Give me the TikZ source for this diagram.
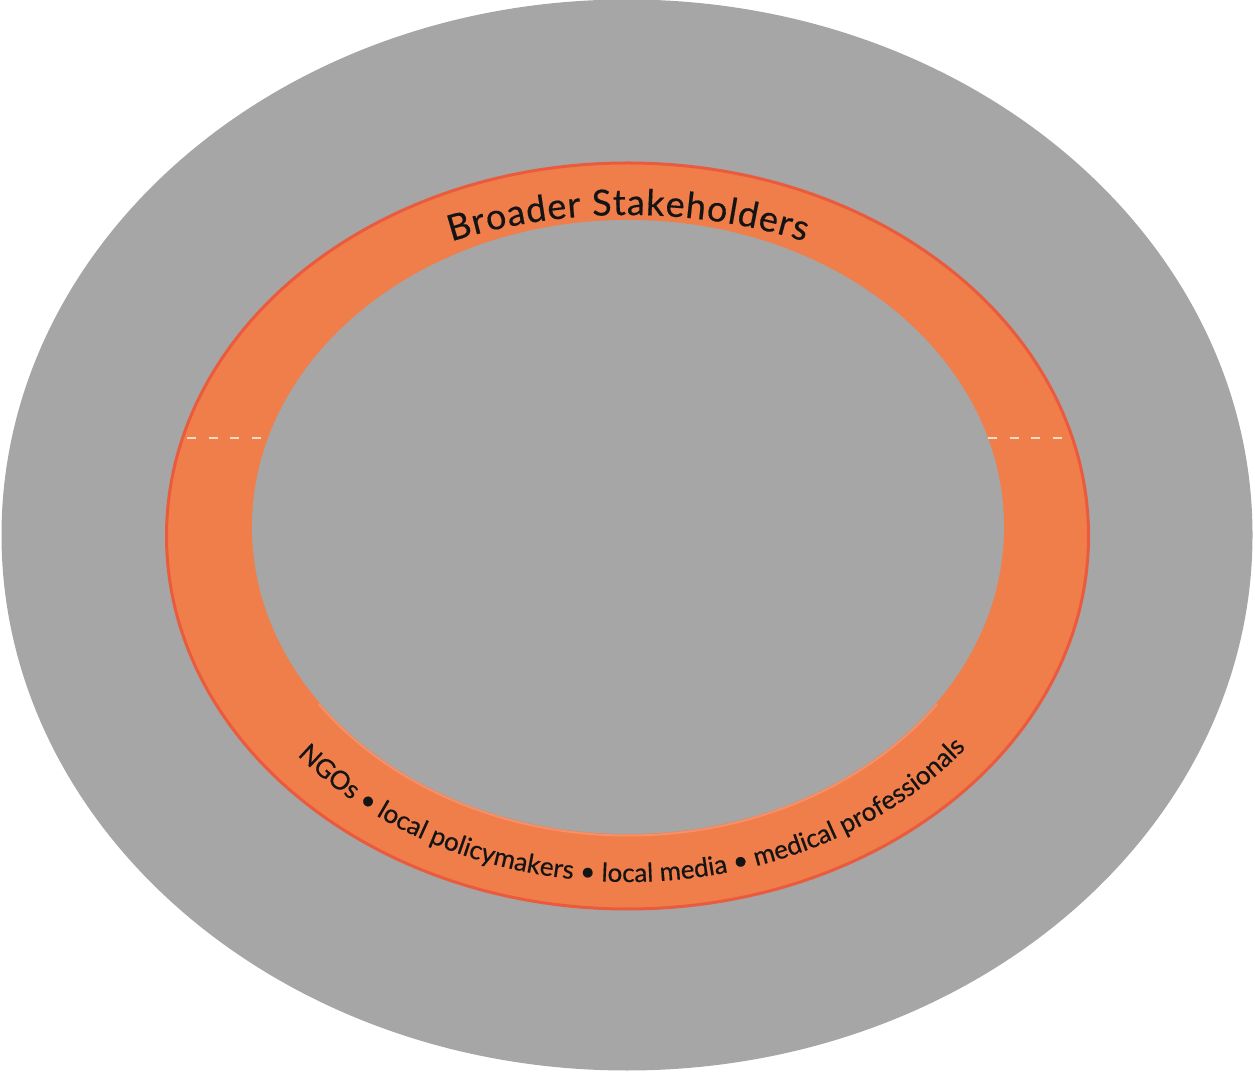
\documentclass[tikz,border=0pt]{standalone}
\usepackage{fontspec}
\setmainfont{Lato}[FakeBold=0.4]
\usetikzlibrary{decorations.text}
\definecolor{bggray}{HTML}{A6A6A6}
\definecolor{ringorange}{HTML}{F07E4B}
\definecolor{ringedge}{HTML}{EA5A3C}
\definecolor{ringlight}{HTML}{F4906A}
\definecolor{dashcream}{HTML}{FADCC2}
\definecolor{txt}{HTML}{141414}
\tikzset{
  ringdash/.style={draw=dashcream, line width=2.8pt, dash pattern=on 9pt off 12.6pt},
  arctext/.style={decorate, decoration={text along path, text align={fit to path}, text color=txt}}
}
\begin{document}
\begin{tikzpicture}[x=1pt,y=1pt]
\useasboundingbox (0,0) rectangle (1255,1071);
% outer gray ellipse
\fill[bggray] (627,536) ellipse [x radius=625.5, y radius=535.5];
% orange ring
\filldraw[fill=ringorange, draw=ringedge, line width=3pt] (627.5,535) ellipse [x radius=461, y radius=373];
% inner gray ellipse
\fill[bggray] (628,544) ellipse [x radius=376, y radius=307];
\draw[ringlight, line width=2pt] ([shift={(215:377.5 and 308.5)}]628,544) arc [start angle=215, end angle=325, x radius=377.5, y radius=308.5];
% dashed separators
\draw[ringdash] (187,633) -- (262,633);
\draw[ringdash] (988,633) -- (1062,633);
% top label
\path[arctext, decoration={text={|\fontsize{36}{40}\selectfont|Broader Stakeholders}}]
  ([shift={(113.5:443 and 320)}]628,536) arc [start angle=113.5, end angle=66.5, x radius=443, y radius=320];
% bottom label
\path[arctext, decoration={text={|\fontsize{26}{30}\selectfont|NGOs {\textbullet} local policymakers {\textbullet} local media {\textbullet} medical professionals}}]
  ([shift={(219.4:428 and 347)}]628,536) arc [start angle=219.4, end angle=321.5, x radius=428, y radius=347];
\end{tikzpicture}
\end{document}
